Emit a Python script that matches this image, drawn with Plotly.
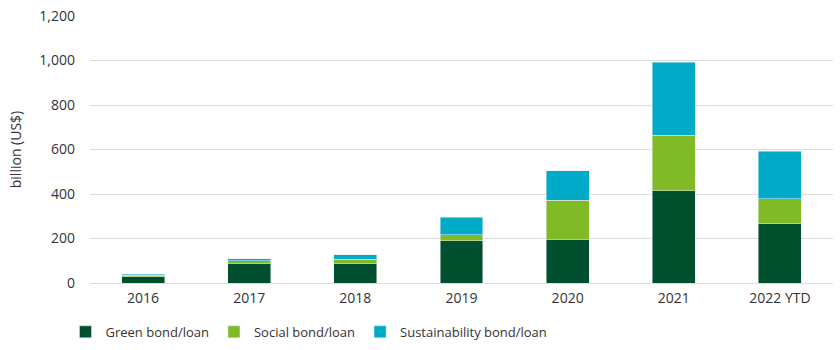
import plotly.graph_objects as go

categories = ["2016", "2017", "2018", "2019", "2020", "2021", "2022 YTD"]
green = [28, 89, 89, 190, 196, 415, 267]
social = [6, 10, 17, 26, 176, 250, 111]
sustainability = [6, 9, 20, 79, 133, 327, 215]
y_ticks = [0, 200, 400, 600, 800, 1000, 1200]
y_ticklabels = ["0", "200", "400", "600", "800", "1,000", "1,200"]

font_family = "Open Sans, Lato, sans-serif"
text_color = "#333333"

fig = go.Figure()
fig.add_trace(go.Bar(name="Green bond/loan", x=categories, y=green, marker_color="#00502F"))
fig.add_trace(go.Bar(name="Social bond/loan", x=categories, y=social, marker_color="#80BA27"))
fig.add_trace(go.Bar(name="Sustainability bond/loan", x=categories, y=sustainability, marker_color="#00ABC8"))

fig.update_layout(
    barmode="stack",
    bargap=0.595,
    width=840,
    height=350,
    margin=dict(l=90, r=7, t=16, b=67, autoexpand=False),
    paper_bgcolor="white",
    plot_bgcolor="white",
    font=dict(family=font_family, size=14, color=text_color),
    legend=dict(
        orientation="h",
        x=-0.033,
        xanchor="left",
        y=-0.183,
        yanchor="middle",
        font=dict(size=13, color=text_color),
        itemwidth=30,
        traceorder="normal",
    ),
    xaxis=dict(
        showgrid=False,
        showline=False,
        ticks="",
        ticklabelstandoff=5,
        tickfont=dict(size=14, color=text_color),
    ),
    yaxis=dict(
        range=[0, 1200],
        tickvals=y_ticks,
        ticktext=y_ticklabels,
        showgrid=True,
        gridcolor="#DDDDDD",
        gridwidth=1,
        zeroline=True,
        zerolinecolor="#DDDDDD",
        zerolinewidth=1,
        ticks="",
        ticklabelstandoff=14,
        tickfont=dict(size=14, color=text_color),
        title=dict(text="billion (US$)", font=dict(size=14, color=text_color), standoff=14),
    ),
)

fig.write_html("out.html")
